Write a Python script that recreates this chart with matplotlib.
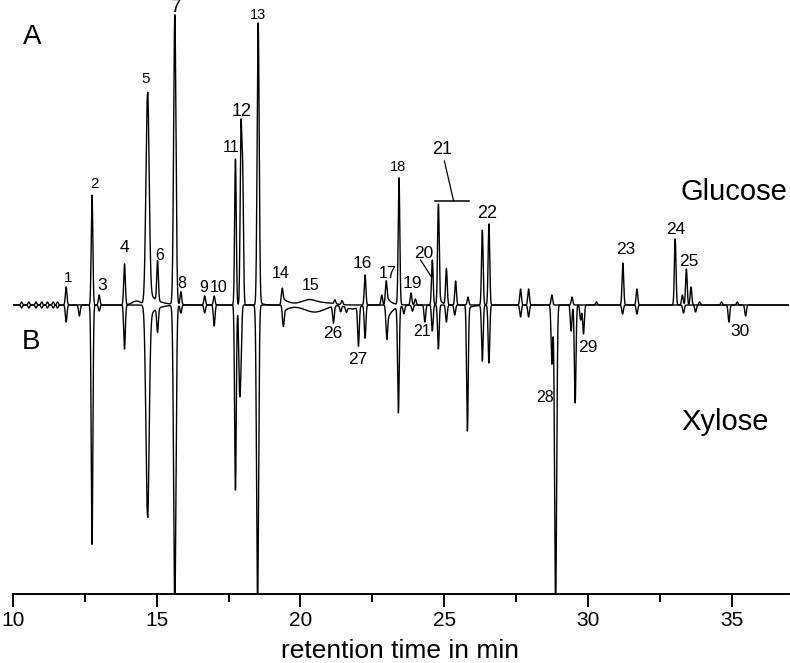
import numpy as np
import matplotlib.pyplot as plt

plt.rcParams['font.family'] = ['Liberation Sans', 'DejaVu Sans']

# glucose trace (A): retention time in min, peak height (arbitrary units, up)
glc_rt = [10.3, 10.55, 10.8, 11.0, 11.2, 11.4, 11.55,
          11.85, 12.75, 13.0, 13.88, 14.68, 15.03, 15.63, 15.84, 16.67, 17.0,
          17.74, 17.93, 17.99, 18.53, 19.36, 21.2, 21.45, 22.25, 22.83, 22.98,
          23.43, 23.85, 24.0, 24.59, 24.80, 25.08, 25.40, 25.83, 26.33, 26.56,
          27.66, 27.94, 28.75, 29.45, 30.3, 31.22, 31.71, 33.04, 33.29, 33.43,
          33.59, 33.89, 34.65, 35.2]
glc_h = [3, 3, 3, 3, 3, 3, 3,
         18, 110, 10, 41, 210, 40, 290, 13, 9, 9,
         146, 170, 128, 282, 15, 4, 4, 30, 10, 22,
         127, 12, 6, 45, 100, 36, 24, 8, 75, 81,
         16, 16, 10, 8, 3, 42, 16, 66, 10, 36,
         18, 3, 3, 3]

# xylose trace (B): retention time in min, peak depth (arbitrary units, down)
xyl_rt = [10.3, 10.55, 10.8, 11.0, 11.2, 11.4, 11.55,
          11.85, 12.31, 12.75, 13.0, 13.88, 14.68, 15.03, 15.63, 15.84, 16.67,
          17.0, 17.74, 17.88, 17.93, 18.51, 19.4, 21.15, 21.4, 21.6, 22.02,
          22.25, 23.0, 23.41, 23.6, 23.9, 24.33, 24.59, 24.80, 25.08, 25.37,
          25.81, 26.33, 26.56, 27.66, 27.94, 28.75, 28.88, 29.42, 29.56, 29.75,
          29.85, 31.21, 31.71, 33.33, 33.75, 34.91, 35.49]
xyl_h = [3, 3, 3, 3, 3, 3, 3,
         17, 11, 240, 6, 44, 210, 24, 300, 8, 8,
         21, 185, 78, 52, 300, 20, 17, 6, 5, 39,
         33, 30, 106, 8, 6, 17, 26, 44, 17, 10,
         126, 56, 58, 12, 12, 59, 300, 26, 98, 15,
         29, 9, 9, 8, 7, 17, 11]

# tailing (fraction of height, decay in min) and wider peaks
glc_tail = {14.68: (0.07, 0.3), 19.36: (0.5, 0.25), 22.98: (0.45, 0.15),
            24.80: (0.1, 0.1), 18.53: (0.02, 0.1)}
xyl_tail = {14.68: (0.07, 0.25), 19.4: (0.35, 0.25), 23.0: (0.55, 0.2),
            25.81: (0.03, 0.2)}
wide = {14.68: 0.055, 15.63: 0.04, 18.53: 0.035, 18.51: 0.035, 28.88: 0.035}

# broad baseline humps: centre, height, width
glc_hump = [(14.3, 4, 0.15), (20.3, 5, 0.25), (20.9, 2, 0.3)]
xyl_hump = [(20.5, 7, 0.35), (21.8, 4, 0.2)]

glc_labels = [('1', 11.93, 27, 11), ('2', 12.84, 121, 11), ('3', 13.12, 20, 12.5),
              ('4', 13.88, 58, 12.5), ('5', 14.61, 226, 11), ('6', 15.10, 49, 11.5),
              ('8', 15.86, 21, 11.5), ('9', 16.62, 18, 11.5),
              ('10', 17.14, 18, 11.5), ('11', 17.59, 157, 11.5), ('12', 17.94, 193, 13),
              ('13', 18.53, 290, 10.5), ('14', 19.33, 32, 11.5), ('15', 20.37, 19, 11.5),
              ('16', 22.17, 42, 12.5), ('17', 23.04, 31, 11.5), ('18', 23.38, 138, 10.5),
              ('19', 23.90, 21, 12.5), ('20', 24.29, 52, 12.5), ('21', 24.94, 156, 13),
              ('22', 26.50, 91, 13), ('23', 31.32, 55, 12.5), ('24', 33.06, 76, 12.5),
              ('25', 33.51, 44, 12.5)]
xyl_labels = [('26', 21.13, -29, 12.5), ('27', 22.0, -54, 12.5), ('21', 24.22, -27, 11.5),
              ('28', 28.52, -93, 11.5), ('29', 30.01, -43, 12.5), ('30', 35.28, -27, 12.5)]

t = np.arange(10, 37.001, 0.004)


def trace(rt, h, tails, humps):
    y = np.zeros_like(t)
    for r, a in zip(rt, h):
        s = wide.get(r, 0.028)
        y += a * np.exp(-0.5 * ((t - r) / s) ** 2)
        if r in tails:
            f, tau = tails[r]
            d = np.clip(t - r, 0, None)
            y += a * f * np.exp(-d / tau) * (1 - np.exp(-d / 0.02))
    for r, a, w in humps:
        y += a * np.exp(-0.5 * ((t - r) / w) ** 2)
    return y


glc = trace(glc_rt, glc_h, glc_tail, glc_hump)
xyl = -trace(xyl_rt, xyl_h, xyl_tail, xyl_hump)

fig = plt.figure(figsize=(7.9, 6.63), dpi=100)
ax = fig.add_axes([13 / 790, 69 / 663, 776 / 790, 594 / 663])
ax.plot(t, glc, color='black', lw=1.0)
ax.plot(t, xyl, color='black', lw=1.0)
ax.set_xlim(10, 37)
ax.set_ylim(-289, 305)

for s in ['top', 'left', 'right']:
    ax.spines[s].set_visible(False)
ax.spines['bottom'].set_linewidth(1.4)
ax.set_yticks([])
ax.set_xticks([10, 15, 20, 25, 30, 35])
ax.set_xticks([12.5, 17.5, 22.5, 27.5, 32.5], minor=True)
ax.tick_params(axis='x', which='major', direction='out', length=9, width=1.4,
               labelsize=15, pad=3)
ax.tick_params(axis='x', which='minor', direction='out', length=5.5, width=1.4)

for txt, x, y, fs in glc_labels + xyl_labels:
    ax.text(x, y, txt, ha='center', va='center', fontsize=fs, clip_on=False)
ax.text(15.69, 306, '7', ha='center', va='top', fontsize=13.5)

# pointer for 20 and bracket for 21
ax.plot([24.18, 24.56], [45, 28], color='black', lw=0.9)
ax.plot([24.67, 25.88], [104, 104], color='black', lw=1.1)
ax.plot([25.01, 25.33], [144, 104], color='black', lw=0.9)

ax.text(10.66, 268, 'A', ha='center', va='center', fontsize=20)
ax.text(10.62, -37, 'B', ha='center', va='center', fontsize=20)
ax.text(35.07, 113, 'Glucose', ha='center', va='center', fontsize=21)
ax.text(34.76, -117, 'Xylose', ha='center', va='center', fontsize=21)

fig.text(400 / 790, 5 / 663, 'retention time in min', ha='center',
         va='baseline', fontsize=19)

fig.savefig('out.png', dpi=100)
